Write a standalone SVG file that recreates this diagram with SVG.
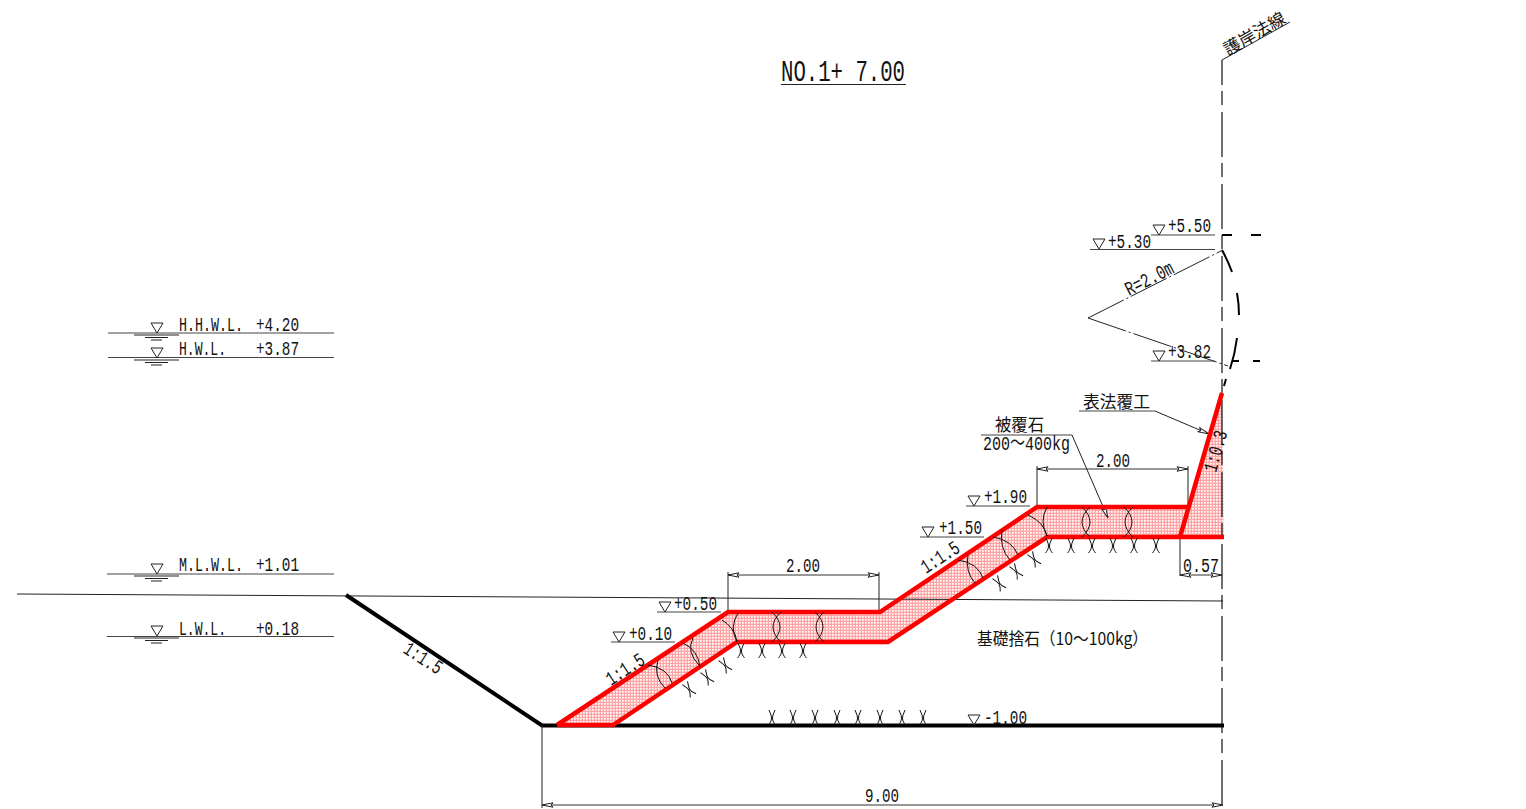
<svg xmlns="http://www.w3.org/2000/svg" width="1526" height="809" viewBox="0 0 1526 809">
<style>
text{fill:#111;font-family:"Liberation Mono",monospace;font-size:20px}
.jp{font-family:"Noto Sans CJK JP",sans-serif;font-size:17px}
.t{fill:none;stroke:#222;stroke-width:1}
.g{fill:none;stroke:#444;stroke-width:1.2}
.c{fill:none;stroke:#111;stroke-width:1}
.k{fill:none;stroke:#000;stroke-width:4}
.kd{fill:none;stroke:#000;stroke-width:2}
.r{fill:none;stroke:#f00;stroke-width:4.500;stroke-linejoin:miter}
.ar{fill:none;stroke:#222;stroke-width:1;marker-end:url(#a)}
.d{fill:none;stroke:#333;stroke-width:1;marker-start:url(#a);marker-end:url(#a)}
.cl{fill:none;stroke:#111;stroke-width:1.2;stroke-dasharray:45 6 14 7;stroke-dashoffset:20}
.dd{fill:none;stroke:#222;stroke-width:1;stroke-dasharray:40 3 2 3}
</style>
<defs>
<pattern id="h" width="3" height="3" patternUnits="userSpaceOnUse"><rect width="3" height="3" fill="#ffa4a4"/><rect x="1" y="1" width="1.700" height="1.700" fill="#fff"/></pattern>
<marker id="a" markerUnits="userSpaceOnUse" markerWidth="13" markerHeight="8" refX="12" refY="4" orient="auto-start-reverse"><path d="M12,4 L1,1.800 L3,4 L1,6.200 Z" fill="#fff" stroke="#222" stroke-width="1"/></marker>
<path id="y" class="c" d="M-3,0 C-2,3 -0.500,5 -0.500,8 C-0.500,11 -2,13 -3.500,15 M3,0 C2,3 0.500,5 0.500,8 C0.500,11 2,13 3.500,15"/>
<path id="v" class="t" d="M-6,-10 H6 L0,0 Z"/>
<g id="w"><path class="t" d="M-16,2 H29 M-5,4.500 H18 M1,7 H12"/></g>
</defs>

<g id="revetment-fill">
<polygon fill="url(#h)" points="557,725 728,612 880,612 1037,507 1188,507 1222,393 1224,537 1047,537 888,642 737,642 613,725"/>
</g>

<g id="connectors">
<path class="t" d="M17,594 L1223,601"/>
<path class="cl" d="M1222,60 V809"/>
<path class="t" d="M1222,60 L1290,22"/>
<path class="k" d="M346,595 L542,725.500 H1224"/>
<path class="t" d="M542,725 V808 M1037,466 V507 M1188,466 V507 M728,572 V612 M879,572 V612 M1180,537 V576"/>
<path class="d" d="M542,805 H1223"/>
<path class="d" d="M1037,469 H1188"/>
<path class="d" d="M728,575 H879"/>
<path class="d" d="M1180,575 H1222"/>
<path class="kd" d="M1222,235 H1232 M1251,235 H1261 M1232,361 H1239 M1253,361 H1260"/>
<path class="kd" d="M1222,250 Q1228,261 1232,272 M1237,293 Q1239,304 1239,315 M1237,338 Q1235,354 1230,369 M1226,379 L1224,386"/>
<path class="dd" d="M1088,318 L1223,250"/>
<path class="dd" d="M1088,318 L1228,366"/>
<path class="ar" d="M1155,411 L1209,434"/>
<path class="ar" d="M1072,435 L1108,518"/>
<path class="g" d="M1079,411 H1155 M981,435 H1072"/>
<path class="r" d="M557,725 L728,612 H880 L1037,507 H1188 M1180,537 L1222,393 M557,725 H613 L737,642 H888 L1047,537 H1224"/>
</g>

<g id="joints">
<path class="c" d="M772,612 Q788,627 772,642 M781,612 Q765,627 781,642 M815,612 Q831,627 815,642 M824,612 Q808,627 824,642 M738,613 Q729,627 737,642 M722,620 Q734,627 737,641"/>
<path class="c" d="M683,643 Q698,650 700,667 M693,638 Q686,652 699,665 M648,665 Q668,668 672,683 M658,660 Q653,676 665,688"/>
<path class="c" d="M1082,507 Q1098,522 1082,537 M1090,507 Q1074,522 1090,537 M1124,507 Q1140,522 1124,537 M1133,507 Q1117,522 1133,537 M1047,507 Q1039,521 1047,536 M1028,515 Q1044,522 1047,536"/>
<path class="c" d="M1002,530 Q999,548 1010,560 M993,537 Q1012,540 1018,555 M968,555 Q965,572 975,583 M958,560 Q978,563 983,578"/>
<use href="#y" x="772" y="710"/><use href="#y" x="793" y="710"/><use href="#y" x="815" y="710"/><use href="#y" x="837" y="710"/><use href="#y" x="858" y="710"/><use href="#y" x="880" y="710"/><use href="#y" x="902" y="710"/><use href="#y" x="923" y="710"/>
<use href="#y" x="741" y="643"/><use href="#y" x="762" y="643"/><use href="#y" x="782" y="643"/><use href="#y" x="803" y="643"/>
<use href="#y" x="1049" y="538"/><use href="#y" x="1071" y="538"/><use href="#y" x="1092" y="538"/><use href="#y" x="1113" y="538"/><use href="#y" x="1134" y="538"/><use href="#y" x="1156" y="538"/>
<use href="#y" transform="translate(685,683) rotate(-33)"/><use href="#y" transform="translate(703,671) rotate(-33)"/><use href="#y" transform="translate(721,659) rotate(-33)"/>
<use href="#y" transform="translate(995,577) rotate(-33)"/><use href="#y" transform="translate(1012,565) rotate(-33)"/><use href="#y" transform="translate(1030,553) rotate(-33)"/>
</g>

<g id="title"><text x="781" y="81" style="font-size:29px" textLength="124" lengthAdjust="spacingAndGlyphs">NO.1+ 7.00</text><path class="t" d="M781,84.500 H906"/></g>

<g id="alignment-label"><text class="jp" transform="translate(1228,56) rotate(-30)" textLength="68" lengthAdjust="spacingAndGlyphs">護岸法線</text></g>

<g id="level-hhwl"><path class="g" d="M108,333 H334"/><use href="#v" x="157" y="333"/><use href="#w" x="150" y="333"/><text transform="translate(179,331) scale(.667,1)">H.H.W.L.</text><text transform="translate(256,331) scale(.717,1)">+4.20</text></g>
<g id="level-hwl"><path class="g" d="M108,357.500 H334"/><use href="#v" x="157" y="358"/><use href="#w" x="150" y="358"/><text transform="translate(179,355) scale(.653,1)">H.W.L.</text><text transform="translate(256,355) scale(.717,1)">+3.87</text></g>
<g id="level-mlwl"><path class="g" d="M107,574 H334"/><use href="#v" x="157" y="574"/><use href="#w" x="150" y="574"/><text transform="translate(179,571) scale(.667,1)">M.L.W.L.</text><text transform="translate(256,571) scale(.717,1)">+1.01</text></g>
<g id="level-lwl"><path class="g" d="M107,636.500 H334"/><use href="#v" x="157" y="636"/><use href="#w" x="150" y="636"/><text transform="translate(179,635) scale(.653,1)">L.W.L.</text><text transform="translate(256,635) scale(.717,1)">+0.18</text></g>

<g id="level-550"><path class="g" d="M1151,235 H1215"/><use href="#v" x="1159" y="235"/><text x="1168" y="232" textLength="43" lengthAdjust="spacingAndGlyphs">+5.50</text></g>
<g id="level-530"><path class="g" d="M1090,249.500 H1215"/><use href="#v" x="1099" y="249"/><text x="1108" y="248" textLength="43" lengthAdjust="spacingAndGlyphs">+5.30</text></g>
<g id="level-382"><path class="g" d="M1151,361 H1215"/><use href="#v" x="1159" y="361"/><text x="1168" y="358" textLength="43" lengthAdjust="spacingAndGlyphs">+3.82</text></g>
<g id="level-190"><path class="g" d="M966,506 H1030"/><use href="#v" x="974" y="506"/><text x="984" y="503" textLength="43" lengthAdjust="spacingAndGlyphs">+1.90</text></g>
<g id="level-150"><path class="g" d="M920,537 H984"/><use href="#v" x="928" y="537"/><text x="939" y="534" textLength="43" lengthAdjust="spacingAndGlyphs">+1.50</text></g>
<g id="level-050"><path class="g" d="M657,612 H721"/><use href="#v" x="665" y="612"/><text x="674" y="610" textLength="43" lengthAdjust="spacingAndGlyphs">+0.50</text></g>
<g id="level-010"><path class="g" d="M611,642 H675"/><use href="#v" x="619" y="642"/><text x="629" y="640" textLength="43" lengthAdjust="spacingAndGlyphs">+0.10</text></g>
<g id="level-m100"><use href="#v" x="974" y="725"/><text x="984" y="724" textLength="43" lengthAdjust="spacingAndGlyphs">-1.00</text></g>

<g id="radius-label"><text transform="translate(1129,296) rotate(-27)" textLength="52" lengthAdjust="spacingAndGlyphs">R=2.0m</text></g>
<g id="slope-wall-label"><text class="jp" x="1083" y="408" textLength="67" lengthAdjust="spacingAndGlyphs">表法覆工</text></g>
<g id="armour-label"><text class="jp" x="995" y="431" textLength="49" lengthAdjust="spacingAndGlyphs">被覆石</text><text x="983" y="450" style="font-family:'Liberation Mono','Noto Sans CJK JP',monospace" textLength="87" lengthAdjust="spacingAndGlyphs">200～400kg</text></g>
<g id="foundation-label"><text class="jp" x="977" y="645" textLength="171" lengthAdjust="spacingAndGlyphs">基礎捨石（10～100kg）</text></g>

<g id="dimensions">
<text x="865" y="802" textLength="34" lengthAdjust="spacingAndGlyphs">9.00</text>
<text x="1096" y="467" textLength="34" lengthAdjust="spacingAndGlyphs">2.00</text>
<text x="786" y="572" textLength="34" lengthAdjust="spacingAndGlyphs">2.00</text>
<text x="1183" y="572" textLength="36" lengthAdjust="spacingAndGlyphs">0.57</text>
</g>

<g id="slope-labels">
<text transform="translate(402,652) rotate(33)" textLength="42" lengthAdjust="spacingAndGlyphs">1:1.5</text>
<text transform="translate(611,686) rotate(-33)" textLength="42" lengthAdjust="spacingAndGlyphs">1:1.5</text>
<text transform="translate(926,574) rotate(-33)" textLength="42" lengthAdjust="spacingAndGlyphs">1:1.5</text>
<text transform="translate(1216,473) rotate(-74)" textLength="42" lengthAdjust="spacingAndGlyphs">1:0.3</text>
</g>
</svg>
